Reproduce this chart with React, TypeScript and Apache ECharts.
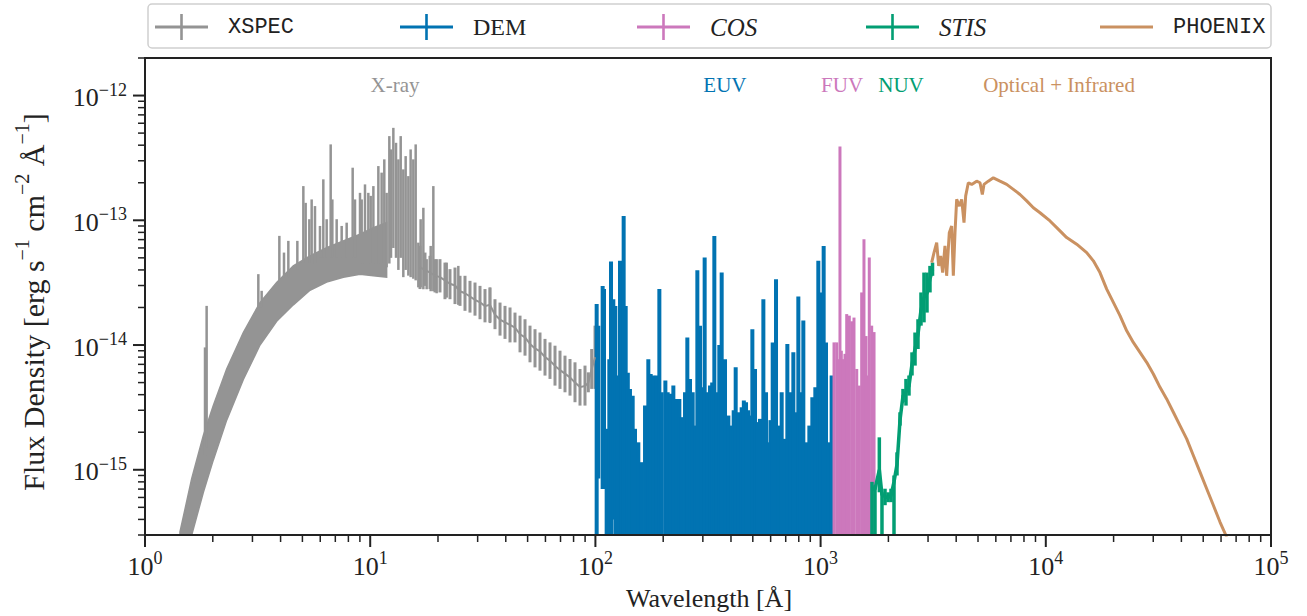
import React, { useEffect, useRef } from 'react';
import * as echarts from 'echarts';

// ---------- axis ranges ----------
const X_MIN = 1;
const X_MAX = 1e5;
const Y_MIN = 3e-16;
const Y_MAX = 2e-12;

// ---------- tick values ----------
const xMajorTicks = [1, 10, 100, 1000, 10000, 100000];
const xMinorTicks = [
  2, 3, 4, 5, 6, 7, 8, 9,
  20, 30, 40, 50, 60, 70, 80, 90,
  200, 300, 400, 500, 600, 700, 800, 900,
  2000, 3000, 4000, 5000, 6000, 7000, 8000, 9000,
  20000, 30000, 40000, 50000, 60000, 70000, 80000, 90000,
];
const yMajorTicks = [1e-15, 1e-14, 1e-13, 1e-12];
const yMinorTicks = [
  3e-16, 4e-16, 5e-16, 6e-16, 7e-16, 8e-16, 9e-16,
  2e-15, 3e-15, 4e-15, 5e-15, 6e-15, 7e-15, 8e-15, 9e-15,
  2e-14, 3e-14, 4e-14, 5e-14, 6e-14, 7e-14, 8e-14, 9e-14,
  2e-13, 3e-13, 4e-13, 5e-13, 6e-13, 7e-13, 8e-13, 9e-13,
  2e-12,
];

// ---------- XSPEC (X-ray) ----------
const xspecBandWl = [1.43, 1.612, 1.816, 2.011, 2.305, 2.733, 3.241, 3.843, 4.557, 5.403, 6.408, 7.598, 9.01, 10.33, 11.83];
const xspecBandLo = [1.72e-16, 3.0e-16, 6.6e-16, 1.2e-15, 2.5e-15, 5.3e-15, 1.0e-14, 1.55e-14, 2.1e-14, 2.75e-14, 3.2e-14, 3.5e-14, 3.7e-14, 3.6e-14, 3.5e-14];
const xspecBandHi = [3.17e-16, 8.47e-16, 1.88e-15, 3.27e-15, 6.43e-15, 1.26e-14, 2.19e-14, 3.17e-14, 4.31e-14, 5.19e-14, 6.04e-14, 6.84e-14, 7.73e-14, 8.74e-14, 9.57e-14];

const xspecSpikeWl = [1.847, 1.878, 3.186, 3.296, 3.95, 4.142, 4.33, 4.748, 5.048, 5.169, 5.366, 5.496, 5.686, 5.984, 6.192, 6.408, 6.676, 6.79, 7.098, 7.47, 7.862, 8.359, 8.56, 9.01, 9.165, 9.482, 9.811, 10.05, 10.33, 10.87, 11.24, 11.55, 11.83, 12.16, 12.37, 12.67, 13.02, 13.34, 13.66, 14.03, 14.37, 14.77, 15.12, 15.54, 15.92, 16.36, 16.75, 17.22, 17.81, 18.56, 19.07, 19.73, 21.86, 24.62, 34.03];
const xspecSpikeLo = [1.3e-15, 1.5e-15, 2.0e-14, 2.0e-14, 3.0e-14, 3.5e-14, 3.5e-14, 4.0e-14, 4.5e-14, 4.5e-14, 4.5e-14, 4.5e-14, 4.5e-14, 5.0e-14, 5.0e-14, 5.0e-14, 5.0e-14, 5.0e-14, 5.0e-14, 5.0e-14, 5.0e-14, 5.0e-14, 5.0e-14, 4.5e-14, 4.5e-14, 4.5e-14, 4.5e-14, 4.5e-14, 4.5e-14, 4.5e-14, 4.5e-14, 4.5e-14, 4.2e-14, 4.5e-14, 5.0e-14, 6.0e-14, 5.0e-14, 4.0e-14, 5.0e-14, 3.5e-14, 4.0e-14, 3.6e-14, 3.5e-14, 3.4e-14, 3.3e-14, 2.9e-14, 2.9e-14, 2.8e-14, 2.8e-14, 2.7e-14, 2.7e-14, 2.6e-14, 2.4e-14, 2.1e-14, 1.5e-14];
const xspecSpikeHi = [9.57e-15, 2.06e-14, 3.7e-14, 2.72e-14, 7.5e-14, 5.51e-14, 6.84e-14, 6.84e-14, 1.88e-13, 1.38e-13, 1.02e-13, 1.47e-13, 1.3e-13, 9.01e-14, 2.13e-13, 1.02e-13, 4.06e-13, 1.47e-13, 1.02e-13, 9.01e-14, 9.57e-14, 2.64e-13, 1.47e-13, 1.66e-13, 1.47e-13, 1.94e-13, 1.66e-13, 1.57e-13, 1.88e-13, 2.72e-13, 2.41e-13, 3.08e-13, 1.66e-13, 4.73e-13, 3.7e-13, 5.51e-13, 4.18e-13, 3.08e-13, 4.73e-13, 2.56e-13, 3.27e-13, 2.26e-13, 3.7e-13, 3.08e-13, 4.06e-13, 6.62e-14, 1.02e-13, 1.26e-13, 4.88e-14, 6.23e-14, 1.88e-13, 4.88e-14, 4.58e-14, 4.31e-14, 2.89e-14];

const xspecBinWl = [16.64, 17.51, 18.43, 19.4, 20.41, 21.48, 22.61, 23.8, 25.05, 26.36, 27.74, 29.2, 30.73, 32.34, 34.03, 35.82, 37.71, 39.68, 41.77, 43.95, 46.27, 48.69, 51.24, 53.93, 56.75, 59.73, 62.86, 66.16, 69.63, 73.28, 77.13, 81.17, 85.43, 89.91, 93.02, 96.25, 99.59];
const xspecBinFlux = [4.2e-14, 4.0e-14, 3.8e-14, 3.6e-14, 3.5e-14, 3.3e-14, 3.1e-14, 3.0e-14, 2.7e-14, 2.6e-14, 2.45e-14, 2.3e-14, 2.2e-14, 2.05e-14, 2.1e-14, 1.75e-14, 1.6e-14, 1.52e-14, 1.45e-14, 1.38e-14, 1.22e-14, 1.15e-14, 1.02e-14, 9.4e-15, 8.9e-15, 8.0e-15, 7.5e-15, 6.8e-15, 6.3e-15, 5.9e-15, 5.5e-15, 5.0e-15, 4.6e-15, 4.7e-15, 5.0e-15, 6.4e-15, 8.0e-15];
const xspecBinLo = [2.81e-14, 2.98e-14, 2.81e-14, 2.64e-14, 2.64e-14, 2.33e-14, 2.33e-14, 2.13e-14, 2.06e-14, 1.88e-14, 1.82e-14, 1.72e-14, 1.61e-14, 1.52e-14, 1.52e-14, 1.34e-14, 1.19e-14, 1.12e-14, 1.05e-14, 1.05e-14, 8.74e-15, 8.22e-15, 7.27e-15, 6.62e-15, 6.23e-15, 5.69e-15, 5.35e-15, 4.73e-15, 4.45e-15, 4.18e-15, 3.93e-15, 3.48e-15, 3.27e-15, 3.27e-15, 4.18e-15, 4.45e-15, 4.45e-15];
const xspecBinHi = [6.23e-14, 5.51e-14, 5.19e-14, 4.88e-14, 4.88e-14, 4.58e-14, 4.06e-14, 4.18e-14, 3.59e-14, 3.59e-14, 3.27e-14, 3.17e-14, 2.98e-14, 2.81e-14, 2.89e-14, 2.33e-14, 2.19e-14, 2.06e-14, 2.0e-14, 1.82e-14, 1.72e-14, 1.61e-14, 1.43e-14, 1.34e-14, 1.26e-14, 1.12e-14, 1.05e-14, 9.88e-15, 9.01e-15, 8.22e-15, 7.73e-15, 7.27e-15, 6.43e-15, 6.84e-15, 6.04e-15, 9.29e-15, 1.43e-14];

// ---------- DEM (EUV) ----------
const demWl = [101.3, 103.0, 107.7, 109.2, 112.2, 115.3, 117.3, 120.1, 122.6, 125.2, 128.6, 130.8, 133.5, 136.3, 139.3, 142.4, 146.4, 149.9, 155.1, 160.5, 166.1, 171.8, 176.0, 180.8, 187.1, 192.3, 197.0, 204.5, 209.4, 215.9, 221.9, 229.6, 235.9, 241.6, 250.0, 256.0, 263.1, 270.4, 277.0, 283.6, 291.4, 296.4, 305.6, 315.1, 322.8, 330.0, 337.4, 345.5, 355.0, 363.7, 376.3, 389.4, 402.9, 411.2, 419.7, 431.3, 446.2, 456.2, 466.5, 476.1, 485.9, 497.7, 511.4, 525.6, 538.3, 557.0, 572.4, 586.2, 599.0, 612.8, 633.9, 649.2, 671.7, 695.0, 711.8, 736.5, 756.8, 777.7, 796.4, 815.7, 838.2, 867.3, 891.3, 919.0, 947.5, 977.0, 1000.7, 1031.8, 1056.8, 1082.3, 1119.7];
const demHi = [2.13e-14, 1.43e-14, 2.98e-14, 2.81e-14, 2.13e-15, 7.7e-15, 4.67e-14, 2.33e-14, 2.06e-14, 5.7e-15, 4.73e-14, 3.81e-14, 1.08e-13, 2.06e-14, 6.0e-15, 4.45e-15, 3.93e-15, 2.13e-15, 1.66e-15, 1.15e-15, 3.27e-15, 7.7e-15, 5.86e-15, 5.7e-15, 5.7e-15, 2.81e-14, 4.18e-15, 5.19e-15, 4.18e-15, 4.06e-15, 4.73e-15, 3.7e-15, 3.7e-15, 2.64e-15, 4.18e-15, 1.15e-14, 5.35e-15, 4.18e-15, 2.26e-15, 3.98e-14, 1.43e-14, 4.58e-15, 5.03e-14, 4.18e-15, 4.73e-15, 5.0e-15, 7.5e-14, 4.18e-15, 1.0e-14, 3.81e-14, 7.7e-15, 2.72e-15, 2.26e-15, 3.0e-15, 6.63e-15, 2.89e-15, 3.17e-15, 3.6e-15, 3.48e-15, 3.0e-15, 2.72e-15, 1.34e-14, 6.43e-15, 2.41e-15, 2.56e-15, 2.33e-14, 4.18e-15, 1.66e-15, 2.5e-15, 1.05e-14, 3.37e-14, 2.26e-15, 4.18e-15, 1.77e-15, 1.02e-14, 4.18e-15, 8.74e-15, 2.89e-15, 2.45e-14, 4.18e-15, 1.57e-14, 1.66e-15, 2.26e-15, 3.81e-15, 4.58e-15, 4.73e-14, 2.64e-14, 6.23e-14, 1.05e-14, 1.66e-15, 5.7e-15];
const demLo = [1e-16, 8.5e-16, 7e-16, 7e-16, 1e-16, 1e-16, 1e-16, 4e-16, 1e-16, 1e-16, 1e-16, 1e-16, 1e-16, 1e-16, 1e-16, 1e-16, 1e-16, 1e-16, 1e-16, 1e-16, 1e-16, 1e-16, 1e-16, 1e-16, 1e-16, 1e-16, 1e-16, 1e-16, 1e-16, 1e-16, 1e-16, 1e-16, 1e-16, 1e-16, 1e-16, 1e-16, 1e-16, 1e-16, 1e-16, 1e-16, 1e-16, 1e-16, 1e-16, 1e-16, 1e-16, 1e-16, 1e-16, 1e-16, 1e-16, 1e-16, 1e-16, 1e-16, 1e-16, 1e-16, 1e-16, 1e-16, 1e-16, 1e-16, 1e-16, 1e-16, 1e-16, 1e-16, 1e-16, 1e-16, 1e-16, 1e-16, 1e-16, 1e-16, 1e-16, 1e-16, 1e-16, 1e-16, 1e-16, 1e-16, 1e-16, 1e-16, 1e-16, 1e-16, 1e-16, 1e-16, 1e-16, 1e-16, 1e-16, 1e-16, 1e-16, 1e-16, 1e-16, 1e-16, 1e-16, 1e-16, 1e-16];

// ---------- COS (FUV) ----------
const cosWl = [1147, 1179, 1198, 1219, 1236, 1253, 1283, 1306, 1341, 1375, 1407, 1447, 1485, 1522, 1558, 1591, 1612, 1645, 1686, 1727];
const cosHi = [1.05e-14, 1.05e-14, 7.7e-15, 3.9e-13, 9.0e-15, 7.7e-15, 8.5e-15, 1.77e-14, 1.72e-14, 1.55e-14, 1.66e-14, 6.43e-15, 4.73e-15, 2.64e-14, 7.05e-14, 1.18e-14, 5.7e-15, 5.03e-14, 1.43e-14, 1.27e-14];
const cosLo = [1e-16, 1e-16, 1e-16, 1e-16, 1e-16, 1e-16, 1e-16, 1e-16, 1e-16, 1e-16, 1e-16, 1e-16, 1e-16, 1e-16, 1e-16, 1e-16, 1e-16, 1e-16, 1e-16, 1e-16];

// ---------- STIS (NUV) ----------
const stisWl = [1691, 1744, 1823, 1873, 1932, 1992, 2054, 2118, 2184, 2252, 2322, 2394, 2469, 2546, 2626, 2707, 2791, 2878, 2968, 3060, 3140];
const stisFlux = [7e-16, 7e-16, 1.0e-15, 6.3e-16, 6.1e-16, 6.0e-16, 6.2e-16, 8.0e-16, 1.1e-15, 2.5e-15, 3.9e-15, 4.2e-15, 4.7e-15, 7.0e-15, 9.3e-15, 1.22e-14, 1.9e-14, 2.4e-14, 2.6e-14, 3.4e-14, 4.0e-14];
const stisLo = [1e-16, 1e-16, 6.6e-16, 1e-16, 5.2e-16, 5.5e-16, 5.5e-16, 1e-16, 9.0e-16, 2.26e-15, 3.48e-15, 3.27e-15, 3.93e-15, 5.7e-15, 6.84e-15, 9.29e-15, 1.43e-14, 1.52e-14, 1.82e-14, 2.64e-14, 3.59e-14];
const stisHi = [8.0e-16, 7.5e-16, 1.82e-15, 6.6e-16, 7.05e-16, 6.6e-16, 7.05e-16, 9.0e-16, 1.38e-15, 2.89e-15, 4.45e-15, 5.35e-15, 5.7e-15, 8.74e-15, 1.26e-14, 1.61e-14, 2.64e-14, 3.81e-14, 3.81e-14, 4.31e-14, 4.58e-14];

// ---------- PHOENIX (optical + IR) ----------
const phxWl = [3113, 3189, 3277, 3344, 3413, 3484, 3567, 3628, 3728, 3819, 3885, 3952, 4020, 4131, 4231, 4333, 4408, 4529, 4687, 4932, 5104, 5226, 5316, 5556, 5848, 6261, 6703, 7176, 7682, 8225, 8805, 9426, 10440, 11180, 12380, 13710, 15190, 16260, 17400, 18640, 19950, 21350, 22870, 24470, 26200, 28050, 30030, 32150, 34410, 36850, 39440, 42230, 45210, 48400, 51810, 55460, 59370, 63570];
const phxFlux = [4.58e-14, 5.51e-14, 6.62e-14, 4.31e-14, 5.19e-14, 3.81e-14, 6.23e-14, 3.59e-14, 7.96e-14, 9.01e-14, 3.59e-14, 7.96e-14, 1.47e-13, 1.3e-13, 1.47e-13, 9.57e-14, 1.57e-13, 2.0e-13, 1.94e-13, 2.06e-13, 2.0e-13, 1.61e-13, 1.94e-13, 2.06e-13, 2.19e-13, 2.06e-13, 1.94e-13, 1.77e-13, 1.61e-13, 1.43e-13, 1.26e-13, 1.15e-13, 9.88e-14, 8.74e-14, 7.27e-14, 6.43e-14, 5.51e-14, 4.73e-14, 3.81e-14, 2.81e-14, 2.2e-14, 1.72e-14, 1.3e-14, 1.05e-14, 8.74e-15, 7.27e-15, 5.86e-15, 4.58e-15, 3.7e-15, 2.89e-15, 2.26e-15, 1.77e-15, 1.3e-15, 9.57e-16, 7.05e-16, 5.19e-16, 3.81e-16, 2.89e-16];

// ---------- region annotations ----------
const annotText = ['X-ray', 'EUV', 'FUV', 'NUV', 'Optical + Infrared'];
const annotWl = [12.9, 376, 1245, 2275, 11450];
const annotFlux = [1.22e-12, 1.22e-12, 1.22e-12, 1.22e-12, 1.22e-12];

// ---------- styling ----------
const C_XSPEC = '#949494';
const C_DEM = '#0173B2';
const C_COS = '#CC78BC';
const C_STIS = '#029E73';
const C_PHX = '#CA9161';
const annotColor = [C_XSPEC, C_DEM, C_COS, C_STIS, C_PHX];
const SERIF = '"Liberation Serif", "DejaVu Serif", serif';
const MONO = '"Liberation Mono", "DejaVu Sans Mono", monospace';
const INK = '#222222';

const CROSS_ICON = 'path://M0,11.5h53v3h-53z M25.2,0h2.6v26h-2.6z M68,0 M68,26';
const LINE_ICON = 'path://M0,11.5h53v3h-53z M0,0 M68,26';

const clampY = (v: number) => Math.min(Math.max(v, Y_MIN), Y_MAX);

function errorBarSeries(name: string, wl: number[], lo: number[], hi: number[], color: string, width: number) {
  return {
    type: 'custom',
    name,
    silent: true,
    data: wl.map((w, i) => [w, lo[i], hi[i]]),
    encode: { x: 0, y: [1, 2] },
    itemStyle: { color },
    renderItem: (_p: any, api: any) => {
      const x = api.value(0);
      const a = clampY(api.value(1));
      const b = clampY(api.value(2));
      if (b <= a) return null;
      const p1 = api.coord([x, a]);
      const p2 = api.coord([x, b]);
      return {
        type: 'line',
        shape: { x1: p1[0], y1: p1[1], x2: p2[0], y2: p2[1] },
        style: { stroke: color, lineWidth: width, lineCap: 'butt' },
      };
    },
  };
}

function bandSeries(name: string, wl: number[], lo: number[], hi: number[], color: string) {
  return {
    type: 'custom',
    name,
    silent: true,
    data: wl.map((w, i) => [w, lo[i], hi[i]]),
    encode: { x: 0, y: [1, 2] },
    itemStyle: { color },
    renderItem: (p: any, api: any) => {
      if (p.dataIndex !== 0) return null;
      const pts: number[][] = [];
      for (let i = 0; i < wl.length; i++) pts.push(api.coord([wl[i], clampY(hi[i])]));
      for (let i = wl.length - 1; i >= 0; i--) pts.push(api.coord([wl[i], clampY(lo[i])]));
      return { type: 'polygon', shape: { points: pts }, style: { fill: color, stroke: color, lineWidth: 1.5 } };
    },
  };
}

function tickSeries(values: number[], axis: 'x' | 'y', len: number, width: number) {
  return {
    type: 'custom',
    silent: true,
    clip: false,
    z: 20,
    data: values.map((v) => (axis === 'x' ? [v, Y_MIN] : [X_MIN, v])),
    encode: { x: 0, y: 1 },
    renderItem: (_p: any, api: any) => {
      const c = api.coord([api.value(0), api.value(1)]);
      const shape = axis === 'x'
        ? { x1: c[0], y1: c[1], x2: c[0], y2: c[1] + len }
        : { x1: c[0], y1: c[1], x2: c[0] - len, y2: c[1] };
      return { type: 'line', shape, style: { stroke: INK, lineWidth: width } };
    },
  };
}

const expLabel = (v: number) => {
  const e = Math.log10(v);
  const r = Math.round(e);
  if (Math.abs(e - r) > 1e-6) return '';
  return `{b|10}{s|${r < 0 ? '\u2212' + -r : r}}`;
};

const labelRich = {
  b: { fontSize: 26, fontFamily: SERIF, lineHeight: 30, verticalAlign: 'bottom', color: INK },
  s: { fontSize: 18, fontFamily: SERIF, lineHeight: 18, verticalAlign: 'top', color: INK },
};

const legendDefs = [
  { name: 'XSPEC', left: 155, color: C_XSPEC, icon: CROSS_ICON, font: MONO, size: 22, italic: false },
  { name: 'DEM', left: 400, color: C_DEM, icon: CROSS_ICON, font: SERIF, size: 24, italic: false },
  { name: 'COS', left: 637, color: C_COS, icon: CROSS_ICON, font: SERIF, size: 25, italic: true },
  { name: 'STIS', left: 866, color: C_STIS, icon: CROSS_ICON, font: SERIF, size: 25, italic: true },
  { name: 'PHOENIX', left: 1100, color: C_PHX, icon: LINE_ICON, font: MONO, size: 22, italic: false },
];

function buildOption() {
  return {
    animation: false,
    backgroundColor: '#ffffff',
    grid: { left: 145, right: 36, top: 58, bottom: 81, show: false, containLabel: false, outerBoundsMode: 'none' },
    xAxis: {
      type: 'log',
      logBase: 10,
      min: X_MIN,
      max: X_MAX,
      axisLine: { show: false },
      axisTick: { show: false },
      splitLine: { show: false },
      axisLabel: { formatter: expLabel, rich: labelRich, margin: 14, color: INK },
    },
    yAxis: {
      type: 'log',
      logBase: 10,
      min: Y_MIN,
      max: Y_MAX,
      axisLine: { show: false },
      axisTick: { show: false },
      splitLine: { show: false },
      axisLabel: { formatter: expLabel, rich: labelRich, margin: 18, color: INK },
    },
    legend: legendDefs.map((d) => ({
      show: true,
      left: d.left,
      top: 14,
      padding: 0,
      orient: 'horizontal',
      itemWidth: 68,
      itemHeight: 26,
      selectedMode: false,
      data: [{ name: d.name, icon: d.icon, itemStyle: { color: d.color, borderWidth: 0 } }],
      textStyle: { fontFamily: d.font, fontSize: d.size, fontStyle: d.italic ? 'italic' : 'normal', color: INK },
    })),
    graphic: [
      {
        type: 'rect',
        z: 0,
        shape: { x: 148, y: 4, width: 1123, height: 44, r: 4 },
        style: { fill: '#ffffff', stroke: '#cfcfcf', lineWidth: 1.5 },
        silent: true,
      },
      {
        type: 'rect',
        z: 100,
        shape: { x: 145, y: 58, width: 1126, height: 477 },
        style: { fill: 'none', stroke: INK, lineWidth: 2 },
        silent: true,
      },
      {
        type: 'text',
        z: 100,
        x: 709,
        y: 598,
        style: {
          text: 'Wavelength [Å]',
          fontSize: 26,
          fontFamily: SERIF,
          fill: INK,
          align: 'center',
          verticalAlign: 'middle',
        },
      },
      {
        type: 'text',
        z: 100,
        x: 30,
        y: 302,
        rotation: Math.PI / 2,
        style: {
          text: '{b|Flux Density [erg s}{s|\u22121}{b| cm}{s|\u22122}{b| Å}{s|\u22121}{b|]}',
          rich: {
            b: { fontSize: 30, fontFamily: SERIF, lineHeight: 36, verticalAlign: 'bottom', fill: INK },
            s: { fontSize: 20, fontFamily: SERIF, lineHeight: 20, verticalAlign: 'top', fill: INK },
          },
          align: 'center',
          verticalAlign: 'middle',
        },
      },
    ],
    series: [
      bandSeries('XSPEC', xspecBandWl, xspecBandLo, xspecBandHi, C_XSPEC),
      errorBarSeries('XSPEC', xspecSpikeWl, xspecSpikeLo, xspecSpikeHi, C_XSPEC, 2.5),
      errorBarSeries('XSPEC', xspecBinWl, xspecBinLo, xspecBinHi, C_XSPEC, 3),
      {
        type: 'line',
        name: 'XSPEC-line',
        silent: true,
        showSymbol: false,
        symbol: 'none',
        data: xspecBinWl.map((w, i) => [w, xspecBinFlux[i]]),
        lineStyle: { color: C_XSPEC, width: 2 },
        itemStyle: { color: C_XSPEC },
      },
      errorBarSeries('DEM', demWl, demLo, demHi, C_DEM, 4),
      errorBarSeries('COS', cosWl, cosLo, cosHi, C_COS, 3),
      errorBarSeries('STIS', stisWl, stisLo, stisHi, C_STIS, 3.5),
      {
        type: 'line',
        name: 'STIS-line',
        silent: true,
        showSymbol: false,
        symbol: 'none',
        data: stisWl.map((w, i) => [w, stisFlux[i]]),
        lineStyle: { color: C_STIS, width: 3.5 },
        itemStyle: { color: C_STIS },
      },
      {
        type: 'line',
        name: 'PHOENIX',
        silent: true,
        showSymbol: false,
        symbol: 'none',
        data: phxWl.map((w, i) => [w, phxFlux[i]]),
        lineStyle: { color: C_PHX, width: 3 },
        itemStyle: { color: C_PHX },
      },
      {
        type: 'custom',
        silent: true,
        z: 10,
        data: annotWl.map((w, i) => [w, annotFlux[i]]),
        encode: { x: 0, y: 1 },
        renderItem: (p: any, api: any) => {
          const c = api.coord([api.value(0), api.value(1)]);
          return {
            type: 'text',
            x: c[0],
            y: c[1],
            style: {
              text: annotText[p.dataIndex],
              fill: annotColor[p.dataIndex],
              fontSize: 21,
              fontFamily: SERIF,
              align: 'center',
              verticalAlign: 'middle',
            },
          };
        },
      },
      tickSeries(xMajorTicks, 'x', 12, 2),
      tickSeries(xMinorTicks, 'x', 7, 1.5),
      tickSeries(yMajorTicks, 'y', 12, 2),
      tickSeries(yMinorTicks, 'y', 7, 1.5),
    ],
  };
}

export default function App() {
  const ref = useRef<HTMLDivElement>(null);
  useEffect(() => {
    if (!ref.current) return;
    const chart = echarts.init(ref.current, undefined, { renderer: 'svg' });
    chart.setOption(buildOption() as any);
    return () => chart.dispose();
  }, []);
  return (
    <div
      ref={ref}
      style={{ position: 'fixed', left: 0, top: 0, width: 1307, height: 616, background: '#ffffff' }}
    />
  );
}
